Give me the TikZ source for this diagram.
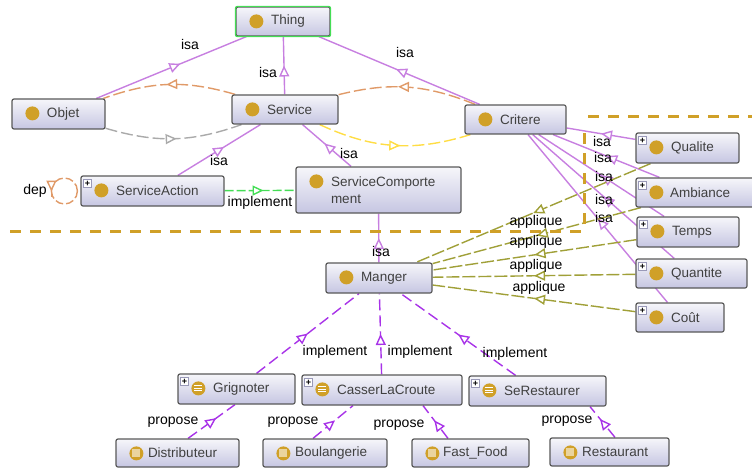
\documentclass[tikz,border=0pt]{standalone}
\usepackage{fontspec}
\setmainfont{Liberation Sans}
\usetikzlibrary{arrows.meta,backgrounds,decorations.markings}
\definecolor{isacol}{HTML}{C77FE0}
\definecolor{implcol}{HTML}{A833E8}
\definecolor{applcol}{HTML}{A0A038}
\definecolor{depcol}{HTML}{E09A68}
\definecolor{goldcol}{HTML}{D0A028}
\definecolor{yellowcol}{HTML}{FFDD44}
\definecolor{greencol}{HTML}{44DD55}
\definecolor{greycol}{HTML}{AAAAAA}
\definecolor{boxtop}{HTML}{F6F6FA}
\definecolor{boxbottom}{HTML}{C6C6E2}
\tikzset{
    midtip/.style={postaction={decorate},decoration={markings,
        mark=at position #1 with {\arrow{Triangle[length=11pt,width=10pt,fill=white]}}}},
    midtip/.default=.5,
    classbox/.style={draw=black!65,line width=1.2pt,rounded corners=2pt,top color=boxtop,
        bottom color=boxbottom,inner xsep=4pt,inner ysep=0pt,align=left,
        text=black!75,font=\fontsize{13.5}{17}\selectfont},
    edgelabel/.style={inner sep=0pt,font=\fontsize{14}{16}\selectfont},
    golddot/.style={circle,fill=goldcol,inner sep=0pt,minimum size=14pt},
    plusbox/.style={draw=blue!30!black!40,fill=white,inner sep=0pt,minimum size=8pt,
        font=\bfseries\fontsize{9}{9}\selectfont},
    isaline/.style={draw=isacol,line width=1.4pt},
    implline/.style={draw=implcol,line width=1.4pt,dash pattern=on 11pt off 5pt},
    applline/.style={draw=applcol,line width=1.4pt,dash pattern=on 13pt off 3pt},
    softline/.style={line width=1.4pt,dash pattern=on 12pt off 4pt},
    goldline/.style={draw=goldcol,line width=3pt,dash pattern=on 11pt off 9pt}
}
\begin{document}
\begin{tikzpicture}[x=1pt,y=-1pt]
    \useasboundingbox (0,0) rectangle (752,468);
    % boxes: name / corners / text / text offset
    \foreach \nm/\xa/\ya/\xb/\yb/\txt/\pad in {
        thing/236/7/330/36/Thing/31,
        objet/12/99/105/129/Objet/31,
        service/232/95/338/124/Service/31,
        critere/465/105/566/134/Critere/31,
        qualite/636/133/739/163/Qualite/31,
        ambiance/636/178/758/207/Ambiance/30,
        temps/637/217/739/247/Temps/31,
        quantite/636/259/747/288/Quantite/31,
        cout/636/303/724/332/Coût/31,
        action/81/176/224/206/ServiceAction/31,
        comport/296/167/461/213/{ServiceComporte\\\hspace*{31pt}ment}/31,
        manger/326/263/432/293/Manger/31,
        grignoter/178/374/295/404/Grignoter/31,
        casser/302/375/462/405/CasserLaCroute/31,
        restaurer/469/376/606/406/SeRestaurer/31,
        distrib/116/439/239/467/Distributeur/28,
        boulang/263/439/387/467/Boulangerie/28,
        fastfood/412/439/529/467/Fast\_Food/27,
        restaurant/550/438/669/466/Restaurant/28}{
        \pgfmathsetmacro\boxw{\xb-\xa}
        \pgfmathsetmacro\boxh{\yb-\ya}
        \pgfmathsetmacro\textw{\xb-\xa-8}
        \node [classbox,minimum width=\boxw pt,minimum height=\boxh pt,text width=\textw pt]
            (\nm) at ({(\xa+\xb)/2},{(\ya+\yb)/2}) {\hspace*{\pad pt}\txt};
        \node [golddot] (\nm-dot) at ([shift={(21,15)}]\nm.north west) {};
    }
    \draw [draw=greencol,line width=1.2pt,rounded corners=2pt] (thing.north west) rectangle (thing.south east);
    \foreach \nm in {action,qualite,ambiance,temps,quantite,cout,grignoter,casser,restaurer}{
        \node [plusbox] (\nm-plus) at ([shift={(7,8)}]\nm.north west) {+};
    }
    \foreach \nm in {grignoter,casser,restaurer}{
        \foreach \dy in {-2.5,0,2.5}{
            \draw [white,line width=.9pt] ([shift={(-4,\dy)}]\nm-dot.center) -- ([shift={(4,\dy)}]\nm-dot.center);
        }
    }
    \foreach \nm in {distrib,boulang,fastfood,restaurant}{
        \node [fill=goldcol!45!white,inner sep=0pt,minimum size=8pt] (\nm-mark) at (\nm-dot) {};
    }
    % labels
    \foreach \nm/\x/\y/\txt in {
        isaa/190/44/isa,isab/268/72/isa,isac/405/52/isa,isad/219/160/isa,isae/349/153/isa,
        isaf/381/251/isa,isag/602/141/isa,isah/603/157/isa,isai/604/176/isa,isaj/604/199/isa,
        isak/604/217/isa,deplabel/35/191/dep,impla/260/203/implement,implb/335/352/implement,
        implc/420/352/implement,impld/515/354/implement,appla/536/222/applique,
        applb/536/242/applique,applc/536/266/applique,appld/539/288/applique,
        propa/173/422/propose,propb/293/422/propose,propc/399/425/propose,propd/567/421/propose}{
        \node [edgelabel] (\nm) at (\x,\y) {\txt};
    }
    \begin{pgfonlayer}{background}
    \foreach \kid/\up/\p in {objet/thing/.56,service/thing/.5,critere/thing/.52,action/service/.56,
        comport/service/.55,manger/comport/.5,qualite/critere/.5,ambiance/critere/.5,
        temps/critere/.5,quantite/critere/.5,cout/critere/.5}{
        \draw [isaline,midtip=\p] (\kid) -- (\up);
    }
    \foreach \kid in {qualite,ambiance,temps,quantite,cout}{
        \draw [applline,midtip] (\kid) -- (manger);
    }
    \foreach \kid in {grignoter,casser,restaurer}{
        \draw [implline,midtip] (\kid) -- (manger);
    }
    \draw [implline,midtip=.6] ([xshift=10.5pt]distrib.north) -- ([xshift=-1.5pt]grignoter.south);
    \draw [implline,midtip=.55] ([xshift=-12pt]boulang.north) -- ([xshift=-29pt]casser.south);
    \draw [implline,midtip=.55] ([xshift=-22.5pt]fastfood.north) -- ([xshift=41pt]casser.south);
    \draw [implline,midtip=.6] ([xshift=5.5pt]restaurant.north) -- ([xshift=52.5pt]restaurer.south);
    \draw [softline,draw=depcol,midtip=.52] (service) to [bend right=18] (objet);
    \draw [softline,draw=depcol,midtip=.57] (critere) to [bend right=18] (service);
    \draw [softline,draw=greycol,midtip=.52] (objet) to [bend right=18] (service);
    \draw [softline,draw=yellowcol,midtip=.54] (service) to [bend right=21] (critere);
    \draw [softline,draw=greencol,dash pattern=on 9pt off 3pt,midtip=.55] (action) -- (comport);
    \draw [softline,draw=depcol,dash pattern=on 8pt off 3pt] ([xshift=-3pt]action.west)
        arc [start angle=0,delta angle=-180,radius=13] coordinate (deptip);
    \draw [softline,draw=depcol,dash pattern=on 8pt off 3pt] (deptip)
        arc [start angle=180,delta angle=-180,radius=13];
    \draw [softline,draw=depcol,solid,midtip=.55] ([yshift=6pt]deptip) -- ([yshift=-6pt]deptip);
    \draw [goldline] (10,231) -- (584,231);
    \draw [goldline] (584,224) -- (584,127);
    \draw [goldline] (588,117) -- (752,117);
    \end{pgfonlayer}
\end{tikzpicture}
\end{document}
